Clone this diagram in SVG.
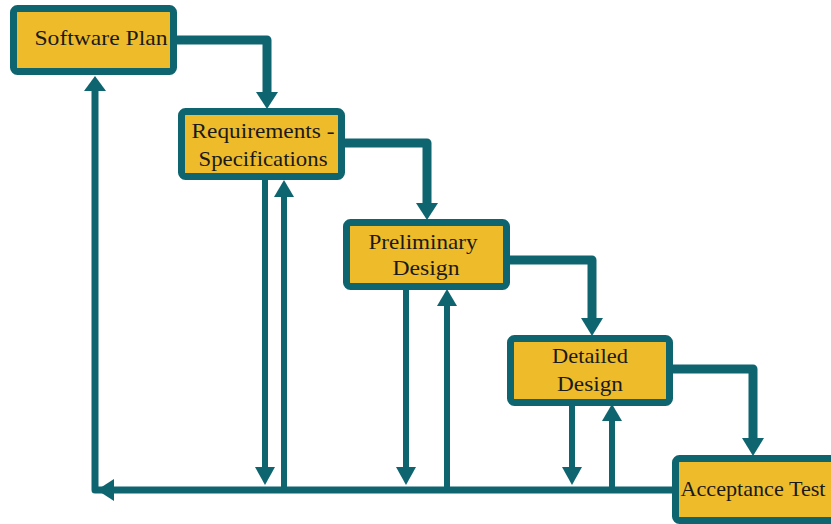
<svg xmlns="http://www.w3.org/2000/svg" width="831" height="524" viewBox="0 0 831 524">
<style>
.box{fill:#EEBB2B;stroke:#0E6570;stroke-width:7;}
.lbl{font-family:'Liberation Serif','DejaVu Serif',serif;font-size:22px;fill:#1a1a1a;text-anchor:middle;}
.main{fill:none;stroke:#0E6570;stroke-width:9;stroke-linejoin:round;}
.thin{fill:none;stroke:#0E6570;stroke-width:6;}
.head{fill:#0E6570;}
</style>
<rect width="831" height="524" fill="#ffffff"/>
<g id="connectors">
  <path class="main" d="M170,40 H267 V94"/>
  <polygon class="head" points="256,92 278,92 267,109"/>
  <path class="main" d="M340,143 H427 V205"/>
  <polygon class="head" points="416,203 438,203 427,220"/>
  <path class="main" d="M505,260 H592 V320"/>
  <polygon class="head" points="581,318 603,318 592,336"/>
  <path class="main" d="M668,369 H753 V440"/>
  <polygon class="head" points="742,438 764,438 753,456"/>
  <path class="main" style="stroke-width:7" d="M675,490 H95 V90"/>
  <polygon class="head" points="97,490 114,479 114,501"/>
  <polygon class="head" points="95,76 84,91 106,91"/>
  <path class="thin" d="M265,178 V470"/>
  <polygon class="head" points="255,467 275,467 265,485"/>
  <path class="thin" d="M284,490 V194"/>
  <polygon class="head" points="274,197 294,197 284,180"/>
  <path class="thin" d="M406,288 V470"/>
  <polygon class="head" points="396,467 416,467 406,485"/>
  <path class="thin" d="M447,490 V302"/>
  <polygon class="head" points="437,306 457,306 447,289"/>
  <path class="thin" d="M572,404 V470"/>
  <polygon class="head" points="562,467 582,467 572,485"/>
  <path class="thin" d="M612,490 V418"/>
  <polygon class="head" points="602,421 622,421 612,404"/>
</g>
<g id="software-plan">
  <rect class="box" x="13.5" y="8.5" width="160" height="63" rx="4"/>
  <text class="lbl" x="101" y="45" textLength="133" lengthAdjust="spacingAndGlyphs">Software Plan</text>
</g>
<g id="requirements">
  <rect class="box" x="181.5" y="111.5" width="160" height="65" rx="4"/>
  <text class="lbl" x="263" y="138" textLength="143" lengthAdjust="spacingAndGlyphs">Requirements -</text>
  <text class="lbl" x="263" y="166" textLength="129" lengthAdjust="spacingAndGlyphs">Specifications</text>
</g>
<g id="preliminary-design">
  <rect class="box" x="346.5" y="222.5" width="160" height="64" rx="4"/>
  <text class="lbl" x="423" y="249" textLength="109" lengthAdjust="spacingAndGlyphs">Preliminary</text>
  <text class="lbl" x="426" y="275" textLength="67" lengthAdjust="spacingAndGlyphs">Design</text>
</g>
<g id="detailed-design">
  <rect class="box" x="510.5" y="338.5" width="159" height="64" rx="4"/>
  <text class="lbl" x="590" y="363" textLength="76" lengthAdjust="spacingAndGlyphs">Detailed</text>
  <text class="lbl" x="590" y="391" textLength="66" lengthAdjust="spacingAndGlyphs">Design</text>
</g>
<g id="acceptance-test">
  <rect class="box" x="675.5" y="458.5" width="162" height="62" rx="4"/>
  <text class="lbl" x="753" y="496" textLength="145" lengthAdjust="spacingAndGlyphs">Acceptance Test</text>
</g>
</svg>
